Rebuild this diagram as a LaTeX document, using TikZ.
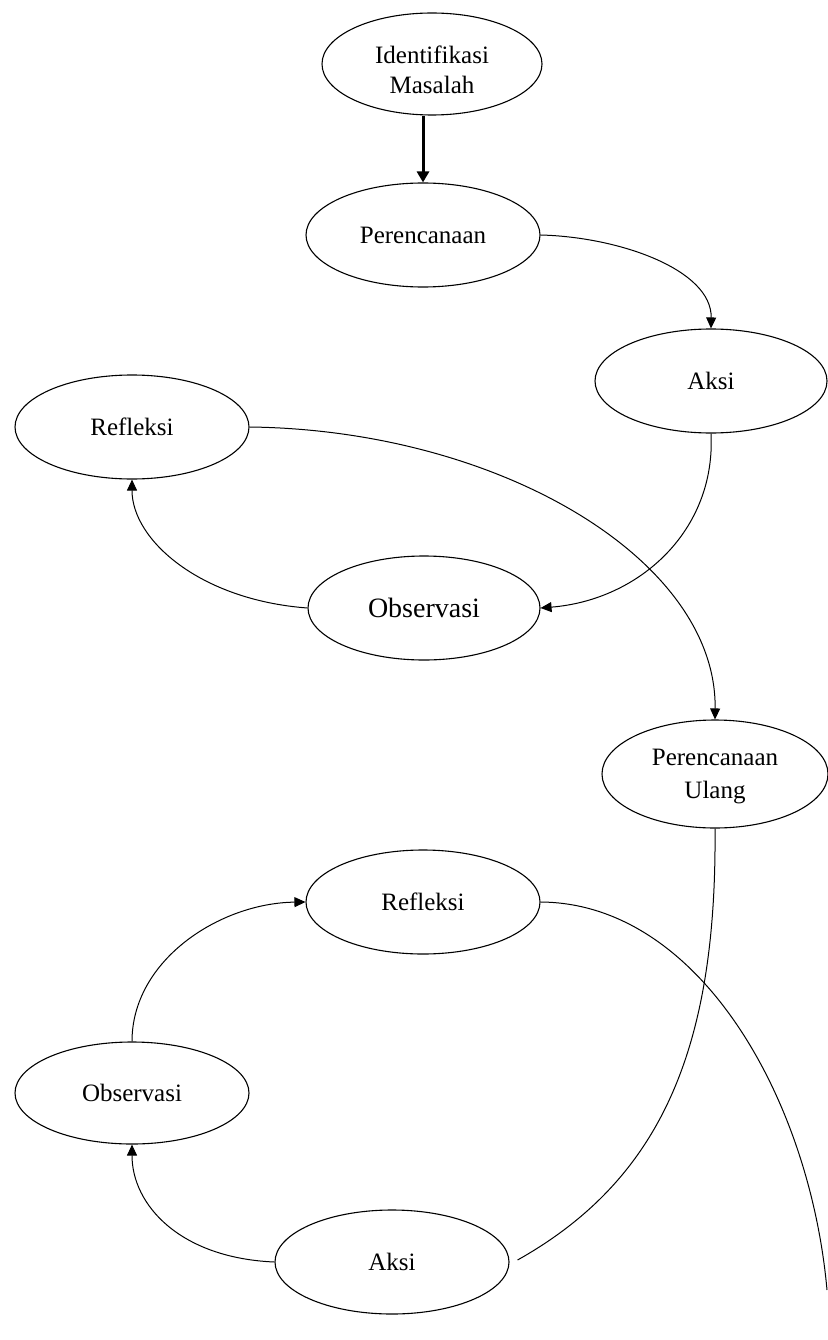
\documentclass[tikz,border=0pt]{standalone}
\usepackage{fontspec}
\setmainfont{Liberation Serif}
\usetikzlibrary{shapes.geometric,arrows.meta,calc}
\tikzset{
  ell/.style={draw, line width=1.1pt, ellipse, inner sep=0pt, align=center,
    font=\fontsize{25}{31}\selectfont},
  lbl/.style={align=center, inner sep=0pt, font=\fontsize{25}{30}\selectfont},
  conn/.style={line width=1pt},
  tip/.style={conn, -{Triangle[length=11pt,width=10pt]}},
  thicktip/.style={line width=3pt, -{Triangle[length=11pt,width=12pt]}}
}
\begin{document}
\begin{tikzpicture}[x=1pt,y=-1pt]
\useasboundingbox (0,0) rectangle (827,1340);
\node[ell, minimum width=220pt, minimum height=102pt] (ident) at (432,64) {};
\node[lbl] (identtxt) at (432,70) {Identifikasi\\Masalah};
\node[ell, minimum width=234pt, minimum height=104pt] (perenc) at (423,235) {Perencanaan};
\node[ell, minimum width=232pt, minimum height=104pt] (aksi) at (711,381) {Aksi};
\node[ell, minimum width=234pt, minimum height=104pt] (refl) at (132,427) {Refleksi};
\node[ell, minimum width=232pt, minimum height=104pt, font=\fontsize{28}{33}\selectfont] (obs) at (424,608) {Observasi};
\node[ell, minimum width=226pt, minimum height=108pt] (pu) at (715,774) {};
\node[lbl, font=\fontsize{25}{33}\selectfont] (putxt) at (715,777) {Perencanaan\\Ulang};
\node[ell, minimum width=234pt, minimum height=104pt] (refl2) at (423,902) {Refleksi};
\node[ell, minimum width=234pt, minimum height=102pt] (obs2) at (132,1093) {Observasi};
\node[ell, minimum width=234pt, minimum height=104pt] (aksi2) at (392,1262) {Aksi};
\coordinate (aksiEnd) at ($(aksi2.east)+(8,-2)$);
\coordinate (edgeEnd) at (827,1290);

\draw[thicktip] (ident.south -| perenc.north) -- (perenc.north);
\draw[tip] (perenc.east) .. controls (620,237) and (712,270) .. (aksi.north);
\draw[tip] (aksi.south) .. controls (716,530) and (640,600) .. (obs.east);
\draw[tip] (obs.west) .. controls (200,600) and (132,540) .. (refl.south);
\draw[tip] (refl.east) .. controls (500,430) and (717,560) .. (pu.north);
\draw[conn] (pu.south) .. controls (717,1050) and (660,1180) .. (aksiEnd);
\draw[tip] (aksi2.west) .. controls (180,1258) and (132,1205) .. (obs2.south);
\draw[tip] (obs2.north) .. controls (132,960) and (220,903) .. (refl2.west);
\draw[conn] (refl2.east) .. controls (700,903) and (810,1100) .. (edgeEnd);
\end{tikzpicture}
\end{document}
